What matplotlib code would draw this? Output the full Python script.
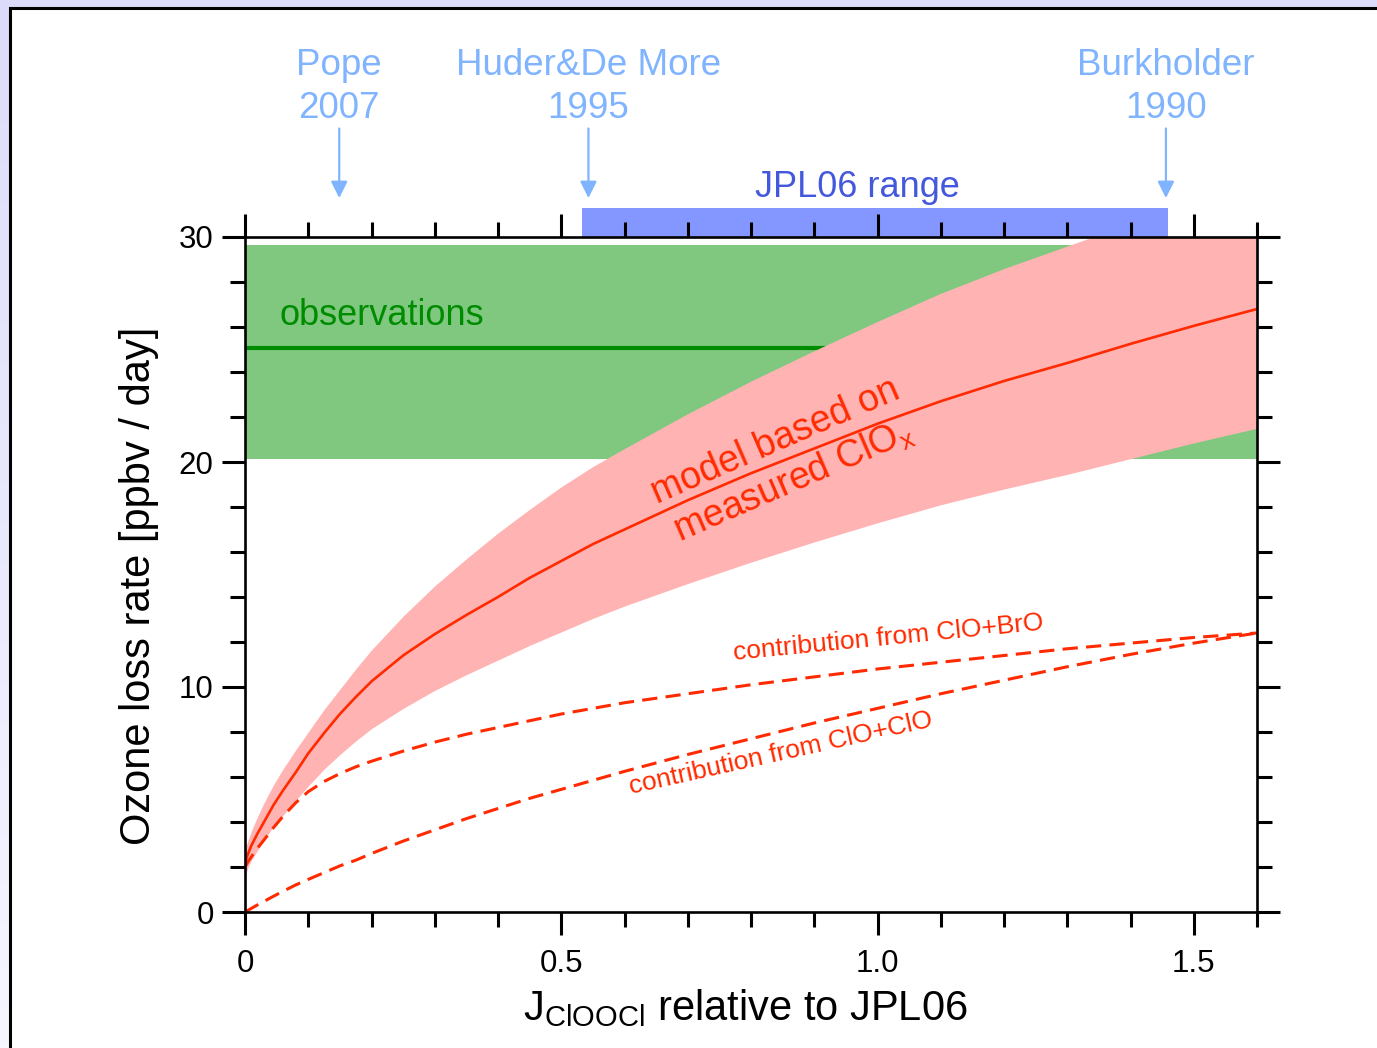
import numpy as np
import matplotlib.pyplot as plt
from matplotlib.patches import Rectangle
from matplotlib.ticker import MultipleLocator

plt.rcParams['font.family'] = ['Liberation Sans', 'DejaVu Sans']
plt.rcParams['mathtext.fontset'] = 'custom'
plt.rcParams['mathtext.rm'] = 'Liberation Sans'
plt.rcParams['mathtext.it'] = 'Liberation Sans:italic'

# J(ClOOCl) scaling relative to JPL06 at which the model curves are sampled
j_scale = [0, 0.005, 0.01, 0.02, 0.03, 0.045, 0.06, 0.08, 0.1, 0.125, 0.15,
           0.175, 0.2, 0.25, 0.3, 0.35, 0.4, 0.45, 0.5, 0.55, 0.6, 0.7, 0.8,
           0.9, 1.0, 1.1, 1.2, 1.3, 1.4, 1.5, 1.6]

# modelled ozone loss rate [ppbv/day] and its uncertainty range
model_mid = [2.2, 2.6, 2.95, 3.5, 4.0, 4.75, 5.4, 6.2, 7.05, 7.95, 8.8,
             9.55, 10.25, 11.4, 12.35, 13.2, 14.0, 14.85, 15.6, 16.35, 17.0,
             18.3, 19.5, 20.6, 21.7, 22.7, 23.6, 24.4, 25.25, 26.05, 26.8]
model_hi = [2.8, 3.2, 3.6, 4.25, 4.85, 5.65, 6.35, 7.2, 8.0, 9.0, 9.9,
            10.8, 11.65, 13.15, 14.5, 15.7, 16.85, 17.9, 18.9, 19.8, 20.6,
            22.15, 23.6, 24.95, 26.25, 27.5, 28.6, 29.6, 30.6, 31.55, 32.45]
model_lo = [1.6, 2.0, 2.3, 2.75, 3.2, 3.8, 4.3, 4.95, 5.6, 6.35, 7.0,
            7.6, 8.15, 9.05, 9.85, 10.55, 11.2, 11.85, 12.45, 13.05, 13.6,
            14.6, 15.55, 16.45, 17.3, 18.1, 18.8, 19.45, 20.15, 20.85, 21.5]

# contributions of the two catalytic cycles
clo_bro = [2.0, 2.25, 2.45, 2.85, 3.2, 3.75, 4.25, 4.85, 5.35, 5.8, 6.15,
           6.45, 6.7, 7.15, 7.55, 7.9, 8.2, 8.5, 8.8, 9.05, 9.3,
           9.7, 10.1, 10.45, 10.8, 11.1, 11.4, 11.7, 11.95, 12.2, 12.4]
clo_clo = [0.0, 0.08, 0.16, 0.32, 0.47, 0.7, 0.92, 1.2, 1.45, 1.75, 2.05,
           2.3, 2.6, 3.15, 3.65, 4.15, 4.6, 5.05, 5.45, 5.85, 6.25,
           7.0, 7.7, 8.4, 9.05, 9.7, 10.3, 10.9, 11.45, 11.95, 12.4]

# observed loss rate and its range
obs_mean = 25.07
obs_lo, obs_hi = 20.13, 29.64

# laboratory cross sections, relative to JPL06
jpl_range = (0.533, 1.459)
ref_labels = ["Pope\n2007", "Huder&De More\n1995", "Burkholder\n1990"]
ref_j = [0.149, 0.543, 1.456]

red = '#ff2a00'
pink = '#ffb3b3'
green_fill = '#80c880'
green_line = '#008c00'
bar_blue = '#8496ff'
text_blue = '#4458dc'
light_blue = '#80b4ff'

W, H = 1377, 1048
fig = plt.figure(figsize=(W / 100, H / 100), dpi=100)

# lavender backdrop with a white framed panel
bg = fig.add_axes([0, 0, 1, 1], zorder=-10)
grad = np.linspace(0, 1, 256).reshape(-1, 1)
top_col = np.array([220, 220, 250]) / 255
bot_col = np.array([246, 246, 255]) / 255
bg.imshow(top_col + grad[..., None] * (bot_col - top_col), extent=[0, 1, 0, 1],
          aspect='auto', origin='upper')
bg.add_patch(Rectangle((9.5 / W, -0.05), 1.2, 1 - 7.5 / H + 0.05,
                       transform=bg.transAxes, facecolor='white',
                       edgecolor='black', lw=2.2))
bg.set_xlim(0, 1)
bg.set_ylim(0, 1)
bg.axis('off')

ax = fig.add_axes([245 / W, 1 - 912 / H, 1012 / W, 675 / H])
ax.set_facecolor('none')
ax.set_xlim(0, 1.6)
ax.set_ylim(0, 30)

# observations
ax.axhspan(obs_lo, obs_hi, color=green_fill, lw=0, zorder=1)
ax.axhline(obs_mean, color=green_line, lw=3, zorder=1.5)
ax.text(0.054, 26.5, "observations", color=green_line, fontsize=26,
        ha='left', va='center', zorder=4)

# model with range
ax.fill_between(j_scale, model_lo, model_hi, color=pink, lw=0, zorder=2)
ax.plot(j_scale, model_mid, color=red, lw=1.9, zorder=3)
ax.plot(j_scale, clo_bro, color=red, lw=2.2, ls=(0, (5, 2.7)), zorder=3)
ax.plot(j_scale, clo_clo, color=red, lw=2.2, ls=(0, (5, 2.7)), zorder=3)

ax.text(0.853, 20.0, "model based on\nmeasured ClO$_\\mathrm{x}$", color=red,
        fontsize=27, rotation=23.5, rotation_mode='anchor', ha='center',
        va='center', multialignment='center', zorder=4)
ax.text(1.017, 12.18, "contribution from ClO+BrO", color=red, fontsize=19,
        rotation=5.6, rotation_mode='anchor', ha='center', va='center',
        zorder=4)
ax.text(0.848, 7.07, "contribution from ClO+ClO", color=red, fontsize=19,
        rotation=12.6, rotation_mode='anchor', ha='center', va='center',
        zorder=4)

# JPL06 range above the frame
ax.add_patch(Rectangle((jpl_range[0], 30), jpl_range[1] - jpl_range[0], 1.29,
                       facecolor=bar_blue, edgecolor='none', clip_on=False,
                       zorder=1))
ax.text(0.968, 32.2, "JPL06 range", color=text_blue, fontsize=26,
        ha='center', va='center')

for lab, xj in zip(ref_labels, ref_j):
    ax.annotate(lab, xy=(xj, 31.73), xytext=(xj, 35.3), ha='center',
                va='baseline', color=light_blue, fontsize=26.5,
                linespacing=1.3, annotation_clip=False,
                arrowprops=dict(arrowstyle='-|>,head_length=0.5,head_width=0.25',
                                mutation_scale=20, color=light_blue, lw=1.6,
                                shrinkA=0, shrinkB=0))

# axes and ticks
ax.set_xticks([0, 0.5, 1.0, 1.5])
ax.set_xticklabels(['0', '0.5', '1.0', '1.5'])
ax.xaxis.set_minor_locator(MultipleLocator(0.1))
ax.set_yticks([0, 10, 20, 30])
ax.yaxis.set_minor_locator(MultipleLocator(2))
ax.tick_params(which='both', direction='out', top=True, right=True,
               width=2.2, colors='black', labelsize=22.5)
ax.tick_params(which='major', length=16.5)
ax.tick_params(which='minor', length=11)
ax.tick_params(axis='x', pad=10)
ax.tick_params(axis='y', pad=6)
for sp in ax.spines.values():
    sp.set_linewidth(1.9)
    sp.set_zorder(5)

ax.set_xlabel("J$_\\mathrm{ClOOCl}$ relative to JPL06", fontsize=30, labelpad=6)
ax.set_ylabel("Ozone loss rate [ppbv / day]", fontsize=30, labelpad=14)
ax.xaxis.label.set_x(0.494)
ax.yaxis.label.set_y(0.483)

fig.savefig("out.png", dpi=100)
